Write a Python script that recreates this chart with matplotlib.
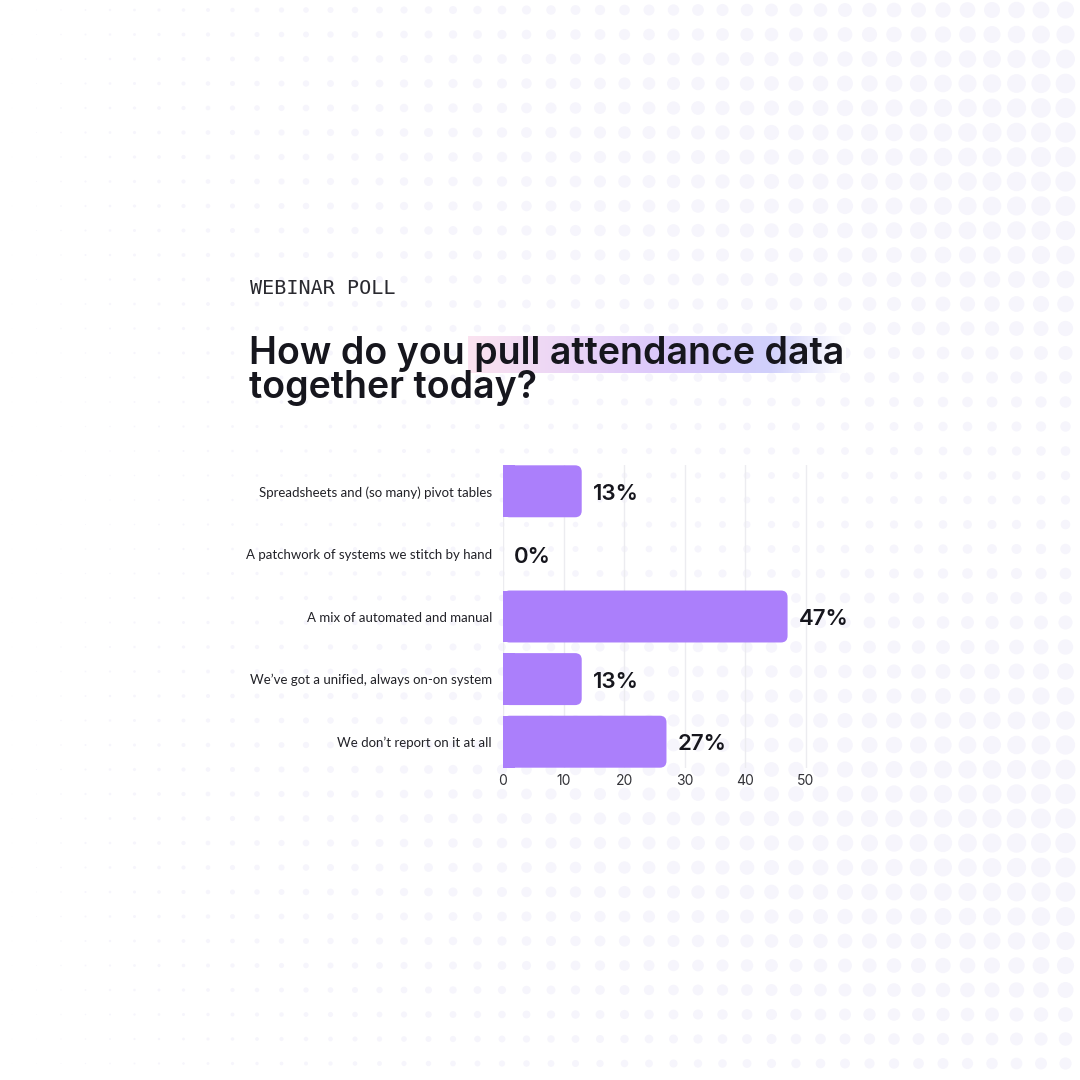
import matplotlib
matplotlib.use("Agg")
import matplotlib.pyplot as plt
import numpy as np
from matplotlib.patches import FancyBboxPatch

categories = [
    "Spreadsheets and (so many) pivot tables",
    "A patchwork of systems we stitch by hand",
    "A mix of automated and manual",
    "We\u2019ve got a unified, always on-on system",
    "We don\u2019t report on it at all",
]
values = [13, 0, 47, 13, 27]
ticks = [0, 10, 20, 30, 40, 50]

BAR = "#ab7ffb"
INK = "#16161d"

fig = plt.figure(figsize=(10.8, 10.8), dpi=100)
fig.patch.set_facecolor("white")

# decorative dot field in the background
bg = fig.add_axes([0, 0, 1, 1], zorder=0)
bg.set_xlim(0, 1080)
bg.set_ylim(1080, 0)
bg.axis("off")
gx, gy = np.meshgrid(np.arange(12, 1080, 24.5), np.arange(10, 1080, 24.5))
gx, gy = gx.ravel(), gy.ravel()
wave = 0.5 + 0.5 * np.cos((gy - 150) / 1080 * 2 * np.pi * 1.6)
s = (gx / 1080) ** 1.8 * 220 * (0.2 + 0.8 * wave)
bg.scatter(gx, gy, s=s, color="#f6f5fc", linewidths=0)

# header texts
fig.text(250 / 1080, 1 - 289 / 1080, "WEBINAR POLL", family="DejaVu Sans Mono",
         fontsize=14.5, color="#2a2a30", va="center")

# gradient highlight behind part of the title
hl = fig.add_axes([468 / 1080, 1 - 373 / 1080, 378 / 1080, 37 / 1080], zorder=1)
hl.axis("off")
t = np.linspace(0, 1, 300)
c0 = np.array([0xfb, 0xe3, 0xf0]) / 255
c1 = np.array([0xdc, 0xc8, 0xfb]) / 255
c2 = np.array([0xd0, 0xd0, 0xfb]) / 255
w = np.ones(3)
grad = np.zeros((1, 300, 4))
for i, v in enumerate(t):
    if v < 0.5:
        c = c0 + (c1 - c0) * v / 0.5
    elif v < 0.8:
        c = c1 + (c2 - c1) * (v - 0.5) / 0.3
    else:
        c = c2 + (w - c2) * (v - 0.8) / 0.2
    grad[0, i, :3] = c
    grad[0, i, 3] = 1
hl.imshow(grad, aspect="auto", extent=[0, 1, 0, 1])

fig.text(249 / 1080, 1 - 354 / 1080, "How do you pull attendance data", family="Inter",
         fontweight="semibold", fontsize=27, color=INK, va="center", zorder=3)
fig.text(249 / 1080, 1 - 388 / 1080, "together today?", family="Inter",
         fontweight="semibold", fontsize=27, color=INK, va="center", zorder=3)

# bar chart
ax = fig.add_axes([503 / 1080, 1 - 768 / 1080, 333 / 1080, 303 / 1080], zorder=2)
ax.patch.set_alpha(0)
y = np.arange(len(categories))
bars = ax.barh(y, values, height=0.83, color=BAR)
ax.set_xlim(0, 55)
ax.set_ylim(4.42, -0.42)
for b in bars:
    x0, y0, bw, bh = b.get_x(), b.get_y(), b.get_width(), b.get_height()
    b.set_visible(False)
    if bw <= 0:
        continue
    ax.add_patch(FancyBboxPatch((x0, y0), bw, bh, boxstyle="round,pad=0,rounding_size=1.1",
                                mutation_aspect=0.096, fc=BAR, ec="none", zorder=3))
    ax.add_patch(plt.Rectangle((x0, y0), min(bw, 2), bh, fc=BAR, ec="none", zorder=3))
for yi, v in zip(y, values):
    ax.annotate(f"{v}%", (v, yi), xytext=(8, -2), textcoords="offset points", va="center",
                ha="left", family="Inter", fontweight="semibold", fontsize=16, color=INK)

ax.set_xticks(ticks)
ax.set_yticks(y)
ax.set_yticklabels(categories, family="Lato", fontsize=9.5, color="#222228")
ax.tick_params(axis="y", length=0, pad=8)
ax.tick_params(axis="x", length=0, pad=4, labelsize=10, labelcolor="#333338")
for lbl in ax.get_xticklabels():
    lbl.set_family("Inter")
ax.grid(axis="x", color="#ececf0", linewidth=1)
ax.set_axisbelow(True)
for sp in ax.spines.values():
    sp.set_visible(False)

fig.savefig("out.png", dpi=100, facecolor="white")
